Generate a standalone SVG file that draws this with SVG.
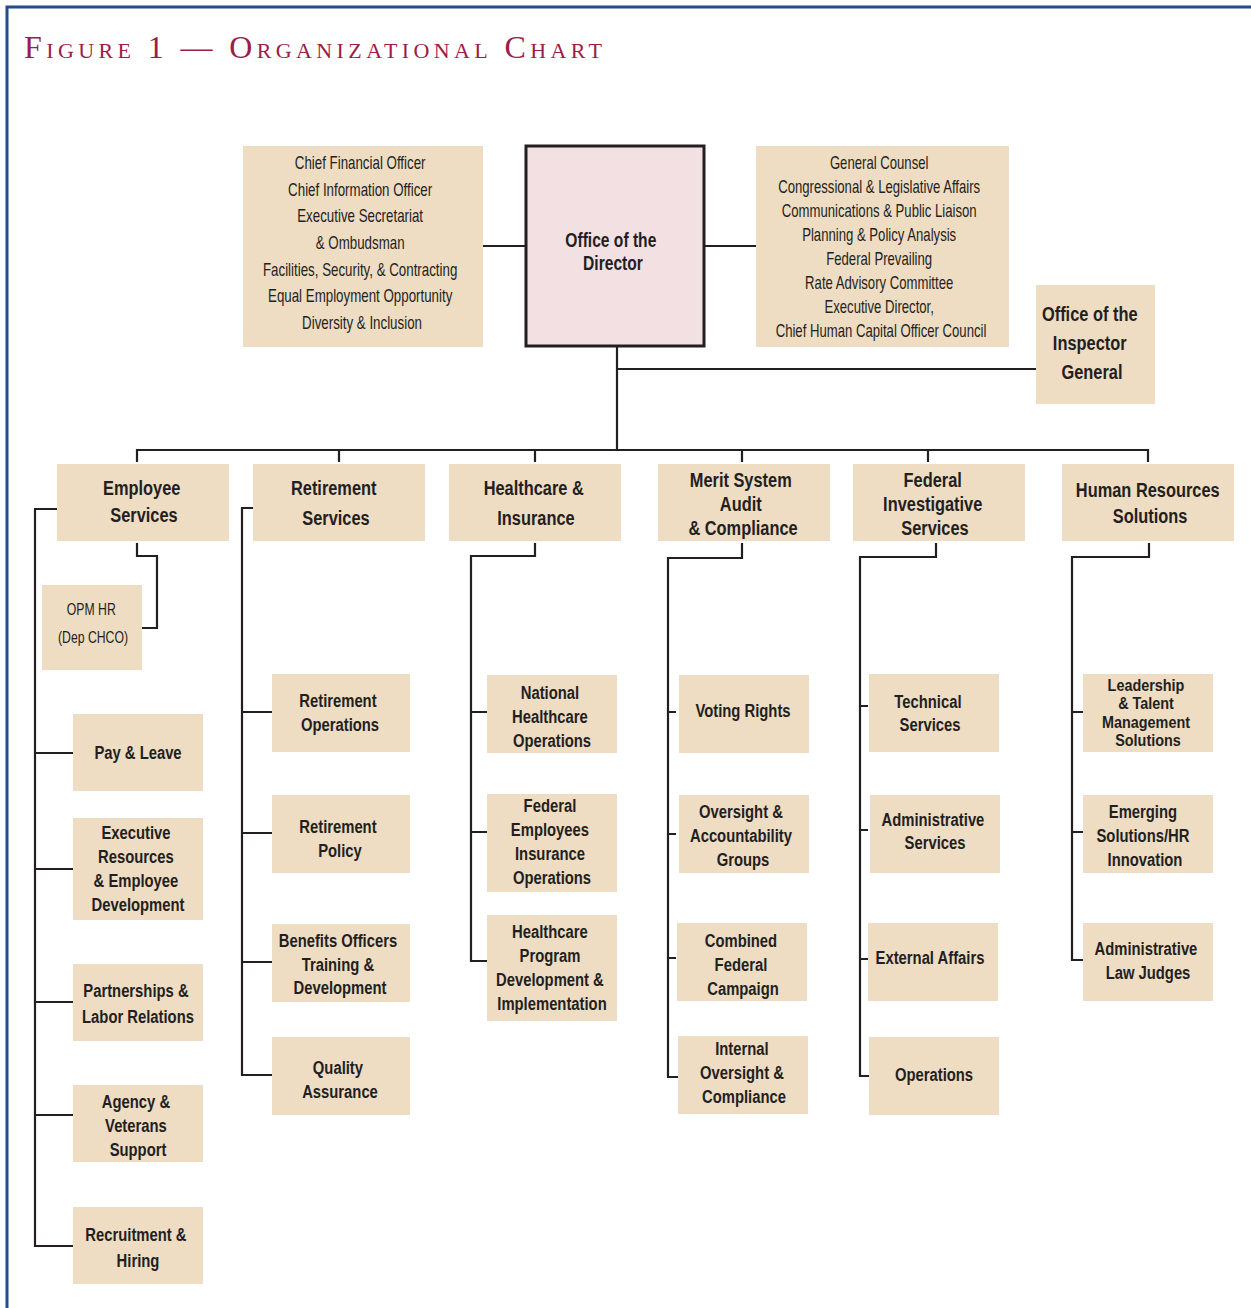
<svg xmlns="http://www.w3.org/2000/svg" width="1251" height="1308" viewBox="0 0 1251 1308">
<style>
.bg{fill:#ffffff}
.box{fill:#EEDCC3}
.dir{fill:#F3E0E3;stroke:#231f20;stroke-width:3}
.ln{fill:none;stroke:#231f20;stroke-width:2.2;stroke-linejoin:miter}
.frame{fill:none;stroke:#1f4f8a;stroke-width:3}
.b{font-family:"Liberation Sans",Arial,sans-serif;font-weight:bold;font-size:19px;fill:#231f20;text-anchor:middle}
.t{font-size:21px}
.r{font-family:"Liberation Sans",Arial,sans-serif;font-weight:normal;font-size:18px;fill:#231f20;text-anchor:middle}
.title{font-family:"Liberation Serif","Times New Roman",serif;font-size:32px;font-variant:small-caps;fill:#9b1d48}
</style>
<rect class="bg" x="0" y="0" width="1251" height="1308"/>
<path class="frame" d="M7,1308 V7 H1251"/>
<text class="title" x="24" y="58" textLength="578" lengthAdjust="spacing">Figure 1 — Organizational Chart</text>

<g id="connectors">
<path class="ln" d="M483,246 H526 M704,246 H756 M617,347 V450 M617,369 H1036"/>
<path class="ln" d="M137,462 V450 H1148 V462 M339,450 V462 M535,450 V462 M742,450 V462 M928,450 V462"/>
<path class="ln" d="M57,509 H35 V1246 H73 M35,753 H73 M35,869 H73 M35,1002 H73 M35,1115 H73"/>
<path class="ln" d="M137,543 V556 H157 V628 H142"/>
<path class="ln" d="M253,508 H242 V1075 H272 M242,712 H272 M242,833 H272 M242,962 H272"/>
<path class="ln" d="M535,543 V556 H471 V961 H487 M471,712 H487 M471,832 H487"/>
<path class="ln" d="M742,543 V558 H668 V1077 H678 M668,712 H676 M668,834 H676 M668,958 H676"/>
<path class="ln" d="M936,543 V557 H860 V1076 H869 M860,706 H868 M860,830 H868 M860,959 H868"/>
<path class="ln" d="M1149,543 V557 H1072 V960 H1083 M1072,712 H1083 M1072,832 H1083"/>
</g>

<g id="staff-left">
<rect class="box" x="243" y="146" width="240" height="201"/>
<g transform="matrix(0.74 0 0 1 362 0)"><text class="r">
<tspan x="0" y="169">Chief Financial Officer</tspan>
<tspan x="0" y="196">Chief Information Officer</tspan>
<tspan x="0" y="222">Executive Secretariat</tspan>
<tspan x="0" y="249">&amp; Ombudsman</tspan>
<tspan x="0" y="276">Facilities, Security, &amp; Contracting</tspan>
<tspan x="0" y="302">Equal Employment Opportunity</tspan>
<tspan x="0" y="329">Diversity &amp; Inclusion</tspan>
</text></g>
</g>

<g id="director">
<rect class="dir" x="526" y="146" width="178" height="200"/>
<g transform="matrix(0.78 0 0 1 613 0)"><text class="b" style="font-size:20px">
<tspan x="0" y="247">Office of the</tspan>
<tspan x="0" y="270">Director</tspan>
</text></g>
</g>

<g id="staff-right">
<rect class="box" x="756" y="146" width="253" height="201"/>
<g transform="matrix(0.73 0 0 1 881 0)"><text class="r">
<tspan x="0" y="169">General Counsel</tspan>
<tspan x="0" y="193">Congressional &amp; Legislative Affairs</tspan>
<tspan x="0" y="217">Communications &amp; Public Liaison</tspan>
<tspan x="0" y="241">Planning &amp; Policy Analysis</tspan>
<tspan x="0" y="265">Federal Prevailing</tspan>
<tspan x="0" y="289">Rate Advisory Committee</tspan>
<tspan x="0" y="313">Executive Director,</tspan>
<tspan x="0" y="337">Chief Human Capital Officer Council</tspan>
</text></g>
</g>

<g id="oig">
<rect class="box" x="1036" y="285" width="119" height="119"/>
<g transform="matrix(0.78 0 0 1 1092 0)"><text class="b t">
<tspan x="0" y="321">Office of the</tspan>
<tspan x="0" y="350">Inspector</tspan>
<tspan x="0" y="379">General</tspan>
</text></g>
</g>

<g id="employee-services">
<rect class="box" x="57" y="464" width="172" height="77"/>
<g transform="matrix(0.78 0 0 1 144 0)"><text class="b t">
<tspan x="0" y="495">Employee</tspan>
<tspan x="0" y="522">Services</tspan>
</text></g>
</g>

<g id="retirement-services">
<rect class="box" x="253" y="464" width="172" height="77"/>
<g transform="matrix(0.78 0 0 1 336 0)"><text class="b t">
<tspan x="0" y="495">Retirement</tspan>
<tspan x="0" y="525">Services</tspan>
</text></g>
</g>

<g id="healthcare-insurance">
<rect class="box" x="449" y="464" width="172" height="77"/>
<g transform="matrix(0.78 0 0 1 536 0)"><text class="b t">
<tspan x="0" y="495">Healthcare &amp;</tspan>
<tspan x="0" y="525">Insurance</tspan>
</text></g>
</g>

<g id="merit-system">
<rect class="box" x="658" y="464" width="172" height="77"/>
<g transform="matrix(0.78 0 0 1 743 0)"><text class="b t">
<tspan x="0" y="487">Merit System</tspan>
<tspan x="0" y="511">Audit</tspan>
<tspan x="0" y="535">&amp; Compliance</tspan>
</text></g>
</g>

<g id="federal-investigative">
<rect class="box" x="853" y="464" width="172" height="77"/>
<g transform="matrix(0.78 0 0 1 935 0)"><text class="b t">
<tspan x="0" y="487">Federal</tspan>
<tspan x="0" y="511">Investigative</tspan>
<tspan x="0" y="535">Services</tspan>
</text></g>
</g>

<g id="hr-solutions">
<rect class="box" x="1062" y="464" width="172" height="77"/>
<g transform="matrix(0.78 0 0 1 1150 0)"><text class="b t">
<tspan x="0" y="497">Human Resources</tspan>
<tspan x="0" y="523">Solutions</tspan>
</text></g>
</g>

<g id="opm-hr">
<rect class="box" x="42" y="585" width="100" height="85"/>
<g transform="matrix(0.72 0 0 1 93 0)"><text class="r" style="font-size:17px">
<tspan x="0" y="615">OPM HR</tspan>
<tspan x="0" y="643">(Dep CHCO)</tspan>
</text></g>
</g>

<g id="pay-leave">
<rect class="box" x="73" y="714" width="130" height="77"/>
<g transform="matrix(0.78 0 0 1 138 0)"><text class="b"><tspan x="0" y="759">Pay &amp; Leave</tspan></text></g>
</g>

<g id="executive-resources">
<rect class="box" x="73" y="818" width="130" height="102"/>
<g transform="matrix(0.78 0 0 1 138 0)"><text class="b">
<tspan x="0" y="839">Executive</tspan>
<tspan x="0" y="863">Resources</tspan>
<tspan x="0" y="887">&amp; Employee</tspan>
<tspan x="0" y="911">Development</tspan>
</text></g>
</g>

<g id="partnerships">
<rect class="box" x="73" y="964" width="130" height="77"/>
<g transform="matrix(0.78 0 0 1 138 0)"><text class="b">
<tspan x="0" y="997">Partnerships &amp;</tspan>
<tspan x="0" y="1023">Labor Relations</tspan>
</text></g>
</g>

<g id="agency-veterans">
<rect class="box" x="73" y="1085" width="130" height="77"/>
<g transform="matrix(0.78 0 0 1 138 0)"><text class="b">
<tspan x="0" y="1108">Agency &amp;</tspan>
<tspan x="0" y="1132">Veterans</tspan>
<tspan x="0" y="1156">Support</tspan>
</text></g>
</g>

<g id="recruitment-hiring">
<rect class="box" x="73" y="1207" width="130" height="77"/>
<g transform="matrix(0.78 0 0 1 138 0)"><text class="b">
<tspan x="0" y="1241">Recruitment &amp;</tspan>
<tspan x="0" y="1267">Hiring</tspan>
</text></g>
</g>

<g id="retirement-operations">
<rect class="box" x="272" y="674" width="138" height="78"/>
<g transform="matrix(0.78 0 0 1 340 0)"><text class="b">
<tspan x="0" y="707">Retirement</tspan>
<tspan x="0" y="731">Operations</tspan>
</text></g>
</g>

<g id="retirement-policy">
<rect class="box" x="272" y="795" width="138" height="78"/>
<g transform="matrix(0.78 0 0 1 340 0)"><text class="b">
<tspan x="0" y="833">Retirement</tspan>
<tspan x="0" y="857">Policy</tspan>
</text></g>
</g>

<g id="benefits-officers">
<rect class="box" x="272" y="924" width="138" height="78"/>
<g transform="matrix(0.78 0 0 1 340 0)"><text class="b">
<tspan x="0" y="947">Benefits Officers</tspan>
<tspan x="0" y="971">Training &amp;</tspan>
<tspan x="0" y="994">Development</tspan>
</text></g>
</g>

<g id="quality-assurance">
<rect class="box" x="272" y="1037" width="138" height="78"/>
<g transform="matrix(0.78 0 0 1 340 0)"><text class="b">
<tspan x="0" y="1074">Quality</tspan>
<tspan x="0" y="1098">Assurance</tspan>
</text></g>
</g>

<g id="national-healthcare">
<rect class="box" x="487" y="675" width="130" height="78"/>
<g transform="matrix(0.78 0 0 1 552 0)"><text class="b">
<tspan x="0" y="699">National</tspan>
<tspan x="0" y="723">Healthcare</tspan>
<tspan x="0" y="747">Operations</tspan>
</text></g>
</g>

<g id="fei-operations">
<rect class="box" x="487" y="794" width="130" height="98"/>
<g transform="matrix(0.78 0 0 1 552 0)"><text class="b">
<tspan x="0" y="812">Federal</tspan>
<tspan x="0" y="836">Employees</tspan>
<tspan x="0" y="860">Insurance</tspan>
<tspan x="0" y="884">Operations</tspan>
</text></g>
</g>

<g id="healthcare-program">
<rect class="box" x="487" y="915" width="130" height="106"/>
<g transform="matrix(0.78 0 0 1 552 0)"><text class="b">
<tspan x="0" y="938">Healthcare</tspan>
<tspan x="0" y="962">Program</tspan>
<tspan x="0" y="986">Development &amp;</tspan>
<tspan x="0" y="1010">Implementation</tspan>
</text></g>
</g>

<g id="voting-rights">
<rect class="box" x="679" y="675" width="130" height="78"/>
<g transform="matrix(0.78 0 0 1 743 0)"><text class="b"><tspan x="0" y="717">Voting Rights</tspan></text></g>
</g>

<g id="oversight-accountability">
<rect class="box" x="679" y="795" width="130" height="78"/>
<g transform="matrix(0.78 0 0 1 743 0)"><text class="b">
<tspan x="0" y="818">Oversight &amp;</tspan>
<tspan x="0" y="842">Accountability</tspan>
<tspan x="0" y="866">Groups</tspan>
</text></g>
</g>

<g id="combined-federal">
<rect class="box" x="677" y="923" width="130" height="78"/>
<g transform="matrix(0.78 0 0 1 743 0)"><text class="b">
<tspan x="0" y="947">Combined</tspan>
<tspan x="0" y="971">Federal</tspan>
<tspan x="0" y="995">Campaign</tspan>
</text></g>
</g>

<g id="internal-oversight">
<rect class="box" x="678" y="1036" width="130" height="78"/>
<g transform="matrix(0.78 0 0 1 744 0)"><text class="b">
<tspan x="0" y="1055">Internal</tspan>
<tspan x="0" y="1079">Oversight &amp;</tspan>
<tspan x="0" y="1103">Compliance</tspan>
</text></g>
</g>

<g id="technical-services">
<rect class="box" x="869" y="674" width="130" height="78"/>
<g transform="matrix(0.78 0 0 1 930 0)"><text class="b">
<tspan x="0" y="708">Technical</tspan>
<tspan x="0" y="731">Services</tspan>
</text></g>
</g>

<g id="administrative-services">
<rect class="box" x="870" y="795" width="130" height="78"/>
<g transform="matrix(0.78 0 0 1 935 0)"><text class="b">
<tspan x="0" y="826">Administrative</tspan>
<tspan x="0" y="849">Services</tspan>
</text></g>
</g>

<g id="external-affairs">
<rect class="box" x="868" y="923" width="130" height="78"/>
<g transform="matrix(0.78 0 0 1 930 0)"><text class="b"><tspan x="0" y="964">External Affairs</tspan></text></g>
</g>

<g id="operations">
<rect class="box" x="869" y="1037" width="130" height="78"/>
<g transform="matrix(0.78 0 0 1 934 0)"><text class="b"><tspan x="0" y="1081">Operations</tspan></text></g>
</g>

<g id="leadership-talent">
<rect class="box" x="1083" y="674" width="130" height="78"/>
<g transform="matrix(0.9 0 0 1 1148 0)"><text class="b" style="font-size:16px">
<tspan x="0" y="691">Leadership</tspan>
<tspan x="0" y="709.5">&amp; Talent</tspan>
<tspan x="0" y="728">Management</tspan>
<tspan x="0" y="746.5">Solutions</tspan>
</text></g>
</g>

<g id="emerging-solutions">
<rect class="box" x="1083" y="795" width="130" height="78"/>
<g transform="matrix(0.78 0 0 1 1145 0)"><text class="b">
<tspan x="0" y="818">Emerging</tspan>
<tspan x="0" y="842">Solutions/HR</tspan>
<tspan x="0" y="866">Innovation</tspan>
</text></g>
</g>

<g id="administrative-law-judges">
<rect class="box" x="1083" y="923" width="130" height="78"/>
<g transform="matrix(0.78 0 0 1 1148 0)"><text class="b">
<tspan x="0" y="955">Administrative</tspan>
<tspan x="0" y="979">Law Judges</tspan>
</text></g>
</g>
</svg>
